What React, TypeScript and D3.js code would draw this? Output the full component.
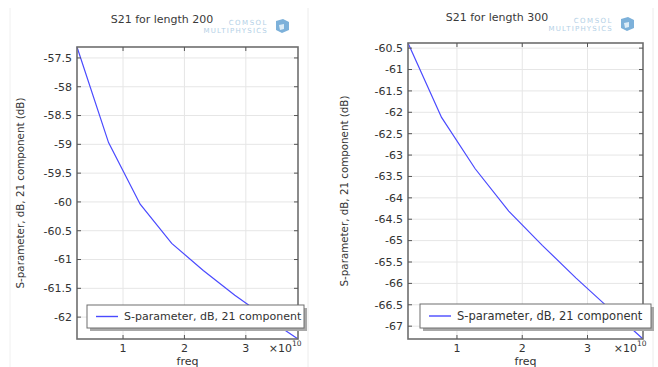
import React from "react";
import * as d3 from "d3";

// Frequency sweep points (units of 1e10 Hz)
const freq = [0.25, 0.764, 1.279, 1.793, 2.307, 2.821, 3.336, 3.85];
// S21 magnitude in dB for the two line lengths
const s21Len200 = [-57.31, -58.97, -60.04, -60.72, -61.19, -61.62, -62.01, -62.38];
const s21Len300 = [-60.38, -62.12, -63.32, -64.31, -65.11, -65.87, -66.59, -67.3];
const xTicks = [1, 2, 3];
const yTicks200 = [-62, -61.5, -61, -60.5, -60, -59.5, -59, -58.5, -58, -57.5];
const yTicks300 = [-67, -66.5, -66, -65.5, -65, -64.5, -64, -63.5, -63, -62.5, -62, -61.5, -61, -60.5];
const seriesName = "S-parameter, dB, 21 component";
const yLabel = "S-parameter, dB, 21 component (dB)";
const xLabel = "freq";

const FONT = "DejaVu Sans, Verdana, sans-serif";

type PanelProps = {
  title: string;
  values: number[];
  yTicks: number[];
  yDomain: [number, number];
  plot: { x0: number; x1: number; y0: number; y1: number };
  titleX: number;
  titleY: number;
  logoRight: number;
  logoY: number;
  legend: { x0: number; x1: number; y0: number; y1: number; fs: number };
  yLabelX: number;
};

function Logo({ right, y }: { right: number; y: number }) {
  return (
    <g>
      <text x={right} y={y} textAnchor="end" fontSize={7} fill="#b3d0e6" fontFamily={FONT} letterSpacing={1.5}>
        COMSOL
      </text>
      <text x={right} y={y + 8} textAnchor="end" fontSize={7} fill="#b3d0e6" fontFamily={FONT} letterSpacing={1.2}>
        MULTIPHYSICS
      </text>
      <path d={`M${right + 8},${y - 4} l7,-2 l6,3 l0,8 l-7,3 l-6,-3 z`} fill="#7db1da" />
      <path d={`M${right + 11},${y} l5,-1 l0,5 l-4,1 z`} fill="#dcecf7" />
    </g>
  );
}

function Panel(p: PanelProps) {
  const { plot } = p;
  const x = d3.scaleLinear().domain([0.25, 3.85]).range([plot.x0, plot.x1]);
  const y = d3.scaleLinear().domain(p.yDomain).range([plot.y1, plot.y0]);
  const line = d3
    .line<number>()
    .x((_, i) => x(freq[i]))
    .y((d) => y(d));
  const lg = p.legend;
  const lgMid = (lg.y0 + lg.y1) / 2;
  return (
    <g>
      <text x={p.titleX} y={p.titleY} textAnchor="middle" fontSize={11} fill="#3a3a3a" fontFamily={FONT}>
        {p.title}
      </text>
      <Logo right={p.logoRight} y={p.logoY} />
      <rect x={plot.x0} y={plot.y0} width={plot.x1 - plot.x0} height={plot.y1 - plot.y0} fill="#fff" />
      {/* grid */}
      {xTicks.map((t) => (
        <line key={"gx" + t} x1={x(t)} x2={x(t)} y1={plot.y0} y2={plot.y1} stroke="#e6e6e6" strokeWidth={1} />
      ))}
      {p.yTicks.map((t) => (
        <line key={"gy" + t} x1={plot.x0} x2={plot.x1} y1={y(t)} y2={y(t)} stroke="#e6e6e6" strokeWidth={1} />
      ))}
      {/* data */}
      <path d={line(p.values) || ""} fill="none" stroke="#4a4aff" strokeWidth={1.2} />
      {/* frame */}
      <rect
        x={plot.x0}
        y={plot.y0}
        width={plot.x1 - plot.x0}
        height={plot.y1 - plot.y0}
        fill="none"
        stroke="#6e6e6e"
        strokeWidth={1.6}
      />
      {/* ticks */}
      {xTicks.map((t) => (
        <g key={"tx" + t}>
          <line x1={x(t)} x2={x(t)} y1={plot.y1} y2={plot.y1 - 4} stroke="#555" />
          <line x1={x(t)} x2={x(t)} y1={plot.y0} y2={plot.y0 + 4} stroke="#555" />
          <text x={x(t)} y={plot.y1 + 13} textAnchor="middle" fontSize={11} fill="#333" fontFamily={FONT}>
            {t}
          </text>
        </g>
      ))}
      {p.yTicks.map((t) => (
        <g key={"ty" + t}>
          <line x1={plot.x0} x2={plot.x0 + 4} y1={y(t)} y2={y(t)} stroke="#555" />
          <line x1={plot.x1} x2={plot.x1 - 4} y1={y(t)} y2={y(t)} stroke="#555" />
          <text x={plot.x0 - 5} y={y(t)} dy="0.35em" textAnchor="end" fontSize={11} fill="#333" fontFamily={FONT}>
            {String(t)}
          </text>
        </g>
      ))}
      {/* x exponent */}
      <text x={plot.x1 - 6} y={plot.y1 + 13} textAnchor="end" fontSize={11} fill="#333" fontFamily={FONT}>
        ×10
      </text>
      <text x={plot.x1 - 6} y={plot.y1 + 7} fontSize={7.5} fill="#333" fontFamily={FONT}>
        10
      </text>
      <text
        x={(plot.x0 + plot.x1) / 2}
        y={plot.y1 + 25.5}
        textAnchor="middle"
        fontSize={11}
        fill="#333"
        fontFamily={FONT}
      >
        {xLabel}
      </text>
      <text
        transform={`translate(${p.yLabelX},${(plot.y0 + plot.y1) / 2}) rotate(-90)`}
        textAnchor="middle"
        fontSize={10.3}
        fill="#333"
        fontFamily={FONT}
      >
        {yLabel}
      </text>
      {/* legend */}
      <rect x={lg.x0 + 3} y={lg.y0 + 3} width={lg.x1 - lg.x0} height={lg.y1 - lg.y0} fill="#a8a8a8" />
      <rect
        x={lg.x0}
        y={lg.y0}
        width={lg.x1 - lg.x0}
        height={lg.y1 - lg.y0}
        fill="#fff"
        stroke="#6e6e6e"
        strokeWidth={1}
      />
      <line x1={lg.x0 + 9} x2={lg.x0 + 31} y1={lgMid} y2={lgMid} stroke="#4a4aff" strokeWidth={1.4} />
      <text x={lg.x0 + 37} y={lgMid} dy="0.35em" fontSize={lg.fs} fill="#333" fontFamily={FONT}>
        {seriesName}
      </text>
    </g>
  );
}

export default function App() {
  return (
    <svg width={658} height={367} style={{ position: "absolute", left: 0, top: 0, background: "#fff" }}>
      <rect x={0} y={0} width={658} height={367} fill="#fff" />
      <line x1={10} x2={10} y1={8} y2={367} stroke="#f0f0f0" />
      <line x1={308} x2={308} y1={8} y2={367} stroke="#ececec" />
      <line x1={653} x2={653} y1={8} y2={367} stroke="#ececec" />
      <Panel
        title="S21 for length 200"
        values={s21Len200}
        yTicks={yTicks200}
        yDomain={[-62.38, -57.31]}
        plot={{ x0: 77, x1: 298, y0: 47, y1: 339 }}
        titleX={162}
        titleY={23}
        logoRight={268}
        logoY={25}
        legend={{ x0: 87, x1: 304, y0: 305, y1: 328, fs: 11 }}
        yLabelX={24}
      />
      <Panel
        title="S21 for length 300"
        values={s21Len300}
        yTicks={yTicks300}
        yDomain={[-67.3, -60.38]}
        plot={{ x0: 408, x1: 643, y0: 43, y1: 339 }}
        titleX={497}
        titleY={21}
        logoRight={613}
        logoY={23}
        legend={{ x0: 420, x1: 651, y0: 304, y1: 328, fs: 11.5 }}
        yLabelX={348}
      />
    </svg>
  );
}
